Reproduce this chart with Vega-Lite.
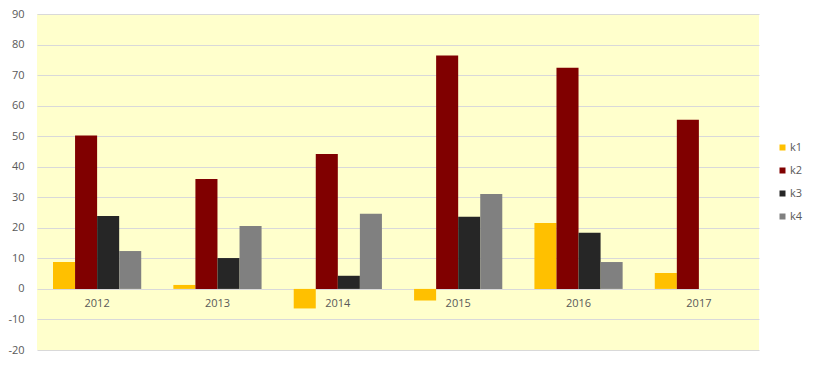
{
  "$schema": "https://vega.github.io/schema/vega-lite/v6.json",
  "width": 722,
  "height": 336,
  "autosize": {"type": "none"},
  "padding": {"left": 37, "top": 14, "right": 54, "bottom": 15},
  "background": "#ffffff",
  "config": {
    "view": {"fill": "#FFFFCC", "stroke": null},
    "font": "Open Sans",
    "axis": {"labelFont": "Open Sans", "labelColor": "#595959", "labelFontSize": 11},
    "legend": {"labelFont": "Open Sans", "labelColor": "#595959", "labelFontSize": 11}
  },
  "data": {
    "values": [
      {"year": "2012", "series": "k1", "value": 8.8},
      {"year": "2012", "series": "k2", "value": 50.2},
      {"year": "2012", "series": "k3", "value": 23.9},
      {"year": "2012", "series": "k4", "value": 12.4},
      {"year": "2013", "series": "k1", "value": 1.3},
      {"year": "2013", "series": "k2", "value": 36.0},
      {"year": "2013", "series": "k3", "value": 10.1},
      {"year": "2013", "series": "k4", "value": 20.6},
      {"year": "2014", "series": "k1", "value": -6.4},
      {"year": "2014", "series": "k2", "value": 44.2},
      {"year": "2014", "series": "k3", "value": 4.3},
      {"year": "2014", "series": "k4", "value": 24.6},
      {"year": "2015", "series": "k1", "value": -3.8},
      {"year": "2015", "series": "k2", "value": 76.4},
      {"year": "2015", "series": "k3", "value": 23.6},
      {"year": "2015", "series": "k4", "value": 31.1},
      {"year": "2016", "series": "k1", "value": 21.6},
      {"year": "2016", "series": "k2", "value": 72.4},
      {"year": "2016", "series": "k3", "value": 18.4},
      {"year": "2016", "series": "k4", "value": 8.8},
      {"year": "2017", "series": "k1", "value": 5.2},
      {"year": "2017", "series": "k2", "value": 55.4}
    ]
  },
  "mark": {"type": "bar"},
  "encoding": {
    "x": {
      "field": "year",
      "type": "nominal",
      "scale": {"paddingInner": 0.267, "paddingOuter": 0.133},
      "axis": {
        "title": null,
        "labelAngle": 0,
        "domain": false,
        "ticks": false,
        "offset": -61,
        "labelPadding": 8
      }
    },
    "xOffset": {
      "field": "series",
      "type": "nominal",
      "scale": {"paddingInner": 0, "paddingOuter": 0, "domain": ["k1", "k2", "k3", "k4"]}
    },
    "y": {
      "field": "value",
      "type": "quantitative",
      "scale": {"domain": [-20, 90], "nice": false, "zero": false},
      "axis": {
        "title": null,
        "values": [-20, -10, 0, 10, 20, 30, 40, 50, 60, 70, 80, 90],
        "labelExpr": "'' + datum.value",
        "domain": false,
        "ticks": false,
        "labelPadding": 13,
        "gridColor": "#D9D9D9",
        "gridWidth": 1
      }
    },
    "color": {
      "field": "series",
      "type": "nominal",
      "scale": {"domain": ["k1", "k2", "k3", "k4"], "range": ["#FFC000", "#800000", "#262626", "#808080"]},
      "legend": {
        "title": null,
        "orient": "none",
        "legendX": 740,
        "legendY": 128,
        "symbolType": "square",
        "symbolSize": 36,
        "symbolStrokeWidth": 0,
        "labelOffset": 2,
        "rowPadding": 11
      }
    }
  }
}
